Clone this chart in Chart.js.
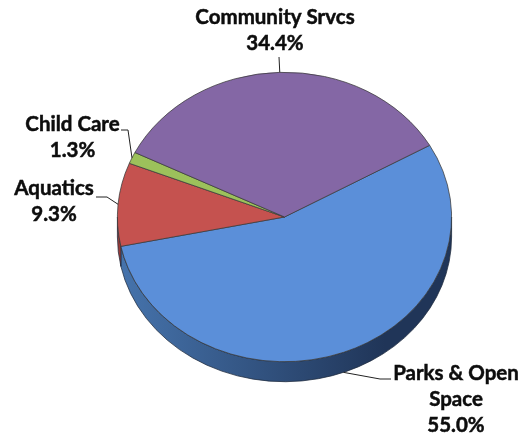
<!DOCTYPE html>
<html lang="en">
<head>
    <meta charset="UTF-8">
    <title>Budget share</title>
    <script src="https://cdn.jsdelivr.net/npm/chart.js@4.4.1/dist/chart.umd.min.js"></script>
    <style>
        html, body { margin: 0; padding: 0; background: #fff; }
    </style>
</head>
<body>
    <canvas id="pieChart" width="527" height="437"></canvas>
    <script>
        // data
        const categories = ['Parks & Open Space', 'Aquatics', 'Child Care', 'Community Srvcs'];
        const shares = [55.0, 9.3, 1.3, 34.4];

        const topColors = ['#5b8fd9', '#c5524f', '#9cc15b', '#8467a5'];
        const sideColors = [['#4674ad', '#203558'], ['#9a3b38', '#7a2c2a'], ['#7a9a45', '#5f7a35'], ['#66508a', '#4d3c6a']];

        const squash = 0.866;   // vertical tilt of the pie
        const depth = 20;       // thickness in px

        // label layout: lines, text centre x, first baseline, elbow and end of leader
        const labelLayout = [
            { lines: ['Parks & Open', 'Space'], x: 456, y: 380, elbow: [380, 379], end: [391, 379] },
            { lines: ['Aquatics'], x: 54, y: 195, elbow: [107, 197], end: [96, 197] },
            { lines: ['Child Care'], x: 72.5, y: 131, elbow: [128, 130], end: [121, 130] },
            { lines: ['Community Srvcs'], x: 275, y: 24, elbow: [279, 57], end: [279, 57] }
        ];

        function arcRanges(s, e) {
            const out = [];
            [-2 * Math.PI, 0, 2 * Math.PI].forEach(off => {
                const a = Math.max(s, off), b = Math.min(e, Math.PI + off);
                if (b > a) out.push([a, b]);
            });
            return out;
        }

        const pie3d = {
            id: 'pie3d',
            beforeDatasetsDraw(chart) {
                const ctx = chart.ctx;
                const arcs = chart.getDatasetMeta(0).data;
                const cx = arcs[0].x, cy = arcs[0].y, r = arcs[0].outerRadius;
                ctx.save();
                ctx.translate(cx, cy);
                ctx.scale(1, squash);
                ctx.translate(-cx, -cy);
                const d = depth / squash;
                arcs.forEach((arc, i) => {
                    arcRanges(arc.startAngle, arc.endAngle).forEach(([a, b]) => {
                        const g = ctx.createLinearGradient(cx - r, 0, cx + r * 0.6, 0);
                        g.addColorStop(0, sideColors[i][0]);
                        g.addColorStop(1, sideColors[i][1]);
                        ctx.beginPath();
                        ctx.arc(cx, cy, r, a, b);
                        ctx.lineTo(cx + r * Math.cos(b), cy + d + r * Math.sin(b));
                        ctx.arc(cx, cy + d, r, b, a, true);
                        ctx.closePath();
                        ctx.fillStyle = g;
                        ctx.fill();
                        ctx.lineWidth = 0.8;
                        ctx.strokeStyle = '#1d2a3d';
                        ctx.stroke();
                    });
                });
            },
            afterDatasetsDraw(chart) {
                chart.ctx.restore();
            },
            afterDraw(chart) {
                const ctx = chart.ctx;
                const arcs = chart.getDatasetMeta(0).data;
                ctx.save();
                ctx.font = 'bold 20.5px Lato';
                ctx.fillStyle = '#0d0d0d';
                ctx.textAlign = 'center';
                ctx.textBaseline = 'alphabetic';
                arcs.forEach((arc, i) => {
                    const L = labelLayout[i];
                    const mid = (arc.startAngle + arc.endAngle) / 2;
                    let ax = arc.x + arc.outerRadius * Math.cos(mid);
                    let ay = arc.y + arc.outerRadius * Math.sin(mid) * squash;
                    if (Math.sin(mid) > 0) ay += depth;
                    ctx.strokeStyle = '#222';
                    ctx.lineWidth = 1;
                    ctx.beginPath();
                    ctx.moveTo(ax, ay);
                    ctx.lineTo(L.elbow[0], L.elbow[1]);
                    ctx.lineTo(L.end[0], L.end[1]);
                    ctx.stroke();
                    const lines = L.lines.concat([shares[i].toFixed(1) + '%']);
                    ctx.strokeStyle = '#0d0d0d';
                    ctx.lineWidth = 0.5;
                    lines.forEach((t, k) => {
                        ctx.fillText(t, L.x, L.y + k * 26);
                        ctx.strokeText(t, L.x, L.y + k * 26);
                    });
                });
                ctx.restore();
            }
        };

        new Chart(document.getElementById('pieChart'), {
            type: 'pie',
            data: {
                labels: categories,
                datasets: [{
                    data: shares,
                    backgroundColor: topColors,
                    borderColor: '#3a3a3a',
                    borderWidth: 0.8,
                    hoverOffset: 0
                }]
            },
            options: {
                responsive: false,
                animation: false,
                rotation: 60.3,
                layout: { padding: { left: 117, right: 75, top: 49.5, bottom: 52.5 } },
                plugins: { legend: { display: false }, tooltip: { enabled: false } }
            },
            plugins: [pie3d]
        });
    </script>
</body>
</html>
